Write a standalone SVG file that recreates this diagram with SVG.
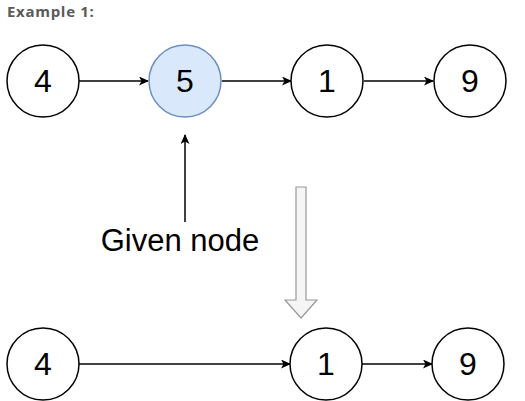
<svg xmlns="http://www.w3.org/2000/svg" width="525" height="401" viewBox="0 0 525 401">
<style>
.n{fill:#fff;stroke:#000;stroke-width:1.5}
.g{fill:#dae8fc;stroke:#6c8ebf;stroke-width:1.5}
.t{font-family:"Liberation Sans",Arial,sans-serif;font-size:32px;fill:#000;text-anchor:middle;dominant-baseline:central}
.e{stroke:#000;stroke-width:1.5;fill:none;marker-end:url(#a)}
</style>
<defs>
<marker id="a" viewBox="0 0 10 10" refX="9" refY="5" markerWidth="10" markerHeight="9" markerUnits="userSpaceOnUse" orient="auto" preserveAspectRatio="none">
<path d="M0,0 L10,5 L0,10 L2.5,5 Z" fill="#000"/>
</marker>
</defs>
<rect width="525" height="401" fill="#fff"/>
<text x="7" y="17" font-family="'Open Sans',sans-serif" font-weight="700" font-size="15" letter-spacing="0.7" fill="#5a5a5a">Example 1:</text>
<g id="connectors">
<line class="e" x1="79" y1="81" x2="148" y2="81"/>
<line class="e" x1="222" y1="81" x2="291" y2="81"/>
<line class="e" x1="364" y1="81" x2="433" y2="81"/>
<line class="e" x1="185" y1="222" x2="185" y2="135"/>
<line class="e" x1="78" y1="364" x2="290" y2="364"/>
<line class="e" x1="362" y1="364" x2="432" y2="364"/>
<path d="M296,187 H306 V300 H317 L301,318 L285,300 H296 Z" fill="#f5f5f5" stroke="#999" stroke-width="1.2"/>
</g>
<g id="t4"><circle class="n" cx="43" cy="81" r="36"/><text class="t" x="43" y="81">4</text></g>
<g id="t5"><circle class="g" cx="185" cy="81" r="36"/><text class="t" x="185" y="81">5</text></g>
<g id="t1"><circle class="n" cx="327" cy="81" r="36"/><text class="t" x="327" y="81">1</text></g>
<g id="t9"><circle class="n" cx="470" cy="81" r="36"/><text class="t" x="470" y="81">9</text></g>
<g id="label"><text x="180" y="251" font-family="'Liberation Sans',Arial,sans-serif" font-size="31" text-anchor="middle" fill="#000">Given node</text></g>
<g id="b4"><circle class="n" cx="43" cy="364" r="36"/><text class="t" x="43" y="364">4</text></g>
<g id="b1"><circle class="n" cx="326" cy="364" r="36"/><text class="t" x="326" y="364">1</text></g>
<g id="b9"><circle class="n" cx="468" cy="364" r="36"/><text class="t" x="468" y="364">9</text></g>
</svg>
